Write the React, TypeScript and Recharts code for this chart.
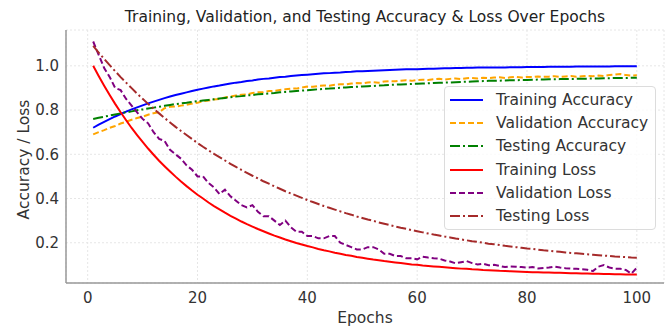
import { LineChart, Line, XAxis, YAxis, CartesianGrid, Legend, Label } from "recharts";

// epochs and metric values
const EPOCHS = [
  1, 2, 3, 4, 5, 6, 7, 8, 9, 10, 11, 12, 13, 14, 15, 16, 17, 18, 19, 20,
  21, 22, 23, 24, 25, 26, 27, 28, 29, 30, 31, 32, 33, 34, 35, 36, 37, 38, 39, 40,
  41, 42, 43, 44, 45, 46, 47, 48, 49, 50, 51, 52, 53, 54, 55, 56, 57, 58, 59, 60,
  61, 62, 63, 64, 65, 66, 67, 68, 69, 70, 71, 72, 73, 74, 75, 76, 77, 78, 79, 80,
  81, 82, 83, 84, 85, 86, 87, 88, 89, 90, 91, 92, 93, 94, 95, 96, 97, 98, 99, 100,
];

const TRAIN_ACC = [
  0.72, 0.734, 0.747, 0.759, 0.771, 0.782, 0.793, 0.803, 0.812, 0.821,
  0.83, 0.838, 0.846, 0.854, 0.861, 0.868, 0.874, 0.88, 0.886, 0.892,
  0.897, 0.902, 0.907, 0.911, 0.916, 0.92, 0.924, 0.927, 0.931, 0.934,
  0.938, 0.941, 0.943, 0.946, 0.949, 0.951, 0.954, 0.956, 0.958, 0.96,
  0.962, 0.964, 0.966, 0.967, 0.969, 0.97, 0.972, 0.973, 0.975, 0.976,
  0.977, 0.978, 0.979, 0.98, 0.981, 0.982, 0.983, 0.984, 0.985, 0.985,
  0.986, 0.987, 0.987, 0.988, 0.989, 0.989, 0.99, 0.99, 0.991, 0.991,
  0.992, 0.992, 0.992, 0.993, 0.993, 0.993, 0.994, 0.994, 0.994, 0.995,
  0.995, 0.995, 0.995, 0.996, 0.996, 0.996, 0.996, 0.996, 0.997, 0.997,
  0.997, 0.997, 0.997, 0.997, 0.997, 0.998, 0.998, 0.998, 0.998, 0.998,
];

const VAL_ACC = [
  0.69, 0.7, 0.709, 0.72, 0.728, 0.739, 0.747, 0.756, 0.764, 0.77,
  0.779, 0.786, 0.79, 0.808, 0.815, 0.816, 0.82, 0.824, 0.829, 0.833,
  0.84, 0.843, 0.848, 0.85, 0.857, 0.861, 0.866, 0.869, 0.871, 0.877,
  0.88, 0.881, 0.886, 0.887, 0.891, 0.894, 0.897, 0.897, 0.902, 0.906,
  0.905, 0.909, 0.911, 0.91, 0.914, 0.917, 0.916, 0.92, 0.922, 0.921,
  0.925, 0.926, 0.924, 0.929, 0.931, 0.93, 0.933, 0.935, 0.932, 0.936,
  0.937, 0.936, 0.939, 0.941, 0.938, 0.941, 0.943, 0.94, 0.944, 0.945,
  0.943, 0.946, 0.944, 0.947, 0.948, 0.945, 0.948, 0.95, 0.947, 0.95,
  0.949, 0.952, 0.95, 0.951, 0.953, 0.95, 0.952, 0.954, 0.951, 0.953,
  0.955, 0.953, 0.956, 0.954, 0.958, 0.96, 0.963, 0.958, 0.956, 0.957,
];

const TEST_ACC = [
  0.76, 0.765, 0.77, 0.775, 0.78, 0.785, 0.79, 0.794, 0.799, 0.803,
  0.807, 0.811, 0.815, 0.819, 0.823, 0.827, 0.83, 0.833, 0.837, 0.84,
  0.843, 0.846, 0.849, 0.852, 0.855, 0.858, 0.861, 0.863, 0.866, 0.868,
  0.871, 0.873, 0.875, 0.877, 0.88, 0.882, 0.884, 0.886, 0.888, 0.89,
  0.892, 0.894, 0.896, 0.897, 0.899, 0.901, 0.902, 0.904, 0.905, 0.907,
  0.908, 0.909, 0.911, 0.912, 0.914, 0.915, 0.916, 0.917, 0.918, 0.919,
  0.92, 0.921, 0.922, 0.923, 0.924, 0.925, 0.926, 0.927, 0.928, 0.929,
  0.93, 0.931, 0.932, 0.932, 0.933, 0.934, 0.935, 0.935, 0.936, 0.936,
  0.937, 0.938, 0.938, 0.939, 0.939, 0.94, 0.94, 0.941, 0.941, 0.942,
  0.942, 0.943, 0.943, 0.944, 0.944, 0.945, 0.945, 0.945, 0.946, 0.946,
];

const TRAIN_LOSS = [
  1.0, 0.954, 0.91, 0.868, 0.828, 0.79, 0.754, 0.719, 0.687, 0.656,
  0.626, 0.598, 0.571, 0.546, 0.522, 0.499, 0.477, 0.456, 0.436, 0.417,
  0.4, 0.382, 0.366, 0.351, 0.336, 0.322, 0.309, 0.296, 0.284, 0.273,
  0.262, 0.252, 0.242, 0.232, 0.224, 0.215, 0.207, 0.199, 0.192, 0.185,
  0.179, 0.172, 0.166, 0.161, 0.155, 0.15, 0.145, 0.141, 0.136, 0.132,
  0.128, 0.124, 0.121, 0.117, 0.114, 0.111, 0.108, 0.105, 0.102, 0.1,
  0.097, 0.095, 0.093, 0.091, 0.089, 0.087, 0.085, 0.083, 0.082, 0.08,
  0.079, 0.077, 0.076, 0.075, 0.073, 0.072, 0.071, 0.07, 0.069, 0.068,
  0.067, 0.067, 0.066, 0.065, 0.064, 0.064, 0.063, 0.062, 0.062, 0.061,
  0.061, 0.06, 0.06, 0.059, 0.059, 0.058, 0.058, 0.057, 0.057, 0.057,
];

const VAL_LOSS = [
  1.11, 1.05, 0.99, 0.95, 0.9, 0.89, 0.85, 0.82, 0.79, 0.76,
  0.74, 0.7, 0.67, 0.66, 0.62, 0.6, 0.58, 0.55, 0.53, 0.5,
  0.5, 0.47, 0.45, 0.42, 0.44, 0.41, 0.39, 0.37, 0.36, 0.37,
  0.34, 0.32, 0.32, 0.3, 0.28, 0.3, 0.27, 0.25, 0.25, 0.23,
  0.23, 0.22, 0.22, 0.23, 0.23, 0.2, 0.19, 0.18, 0.17, 0.17,
  0.18, 0.18, 0.17, 0.15, 0.15, 0.14, 0.14, 0.13, 0.13, 0.125,
  0.137, 0.133, 0.13, 0.128, 0.12, 0.115, 0.107, 0.112, 0.117, 0.108,
  0.102, 0.105, 0.098, 0.1, 0.095, 0.09, 0.093, 0.092, 0.09, 0.088,
  0.09, 0.084, 0.086, 0.088, 0.092, 0.088, 0.085, 0.083, 0.082, 0.08,
  0.078, 0.072, 0.092, 0.099, 0.088, 0.083, 0.082, 0.077, 0.06, 0.087,
];

const TEST_LOSS = [
  1.09, 1.06, 1.031, 1.003, 0.976, 0.949, 0.924, 0.899, 0.874, 0.851,
  0.828, 0.806, 0.785, 0.764, 0.744, 0.724, 0.705, 0.687, 0.669, 0.651,
  0.634, 0.618, 0.602, 0.587, 0.572, 0.557, 0.543, 0.529, 0.516, 0.503,
  0.491, 0.478, 0.467, 0.455, 0.444, 0.433, 0.423, 0.413, 0.403, 0.393,
  0.384, 0.375, 0.366, 0.358, 0.35, 0.342, 0.334, 0.327, 0.319, 0.312,
  0.305, 0.299, 0.292, 0.286, 0.28, 0.274, 0.268, 0.263, 0.257, 0.252,
  0.247, 0.242, 0.237, 0.233, 0.228, 0.224, 0.219, 0.215, 0.211, 0.207,
  0.204, 0.2, 0.196, 0.193, 0.19, 0.186, 0.183, 0.18, 0.177, 0.174,
  0.172, 0.169, 0.166, 0.164, 0.161, 0.159, 0.156, 0.154, 0.152, 0.15,
  0.148, 0.146, 0.144, 0.142, 0.14, 0.138, 0.137, 0.135, 0.133, 0.132,
];

const X_TICKS = [0, 20, 40, 60, 80, 100];
const Y_TICKS = [0.2, 0.4, 0.6, 0.8, 1.0];

const data = EPOCHS.map((epoch, i) => ({
  epoch,
  trainAcc: TRAIN_ACC[i],
  valAcc: VAL_ACC[i],
  testAcc: TEST_ACC[i],
  trainLoss: TRAIN_LOSS[i],
  valLoss: VAL_LOSS[i],
  testLoss: TEST_LOSS[i],
}));

const DASHED = "6 3";
const DASHDOT = "10 3 2 3";

const SERIES = [
  { key: "trainAcc", name: "Training Accuracy", color: "#0000ff", dash: undefined },
  { key: "valAcc", name: "Validation Accuracy", color: "#ffa500", dash: DASHED },
  { key: "testAcc", name: "Testing Accuracy", color: "#008000", dash: DASHDOT },
  { key: "trainLoss", name: "Training Loss", color: "#ff0000", dash: undefined },
  { key: "valLoss", name: "Validation Loss", color: "#800080", dash: DASHED },
  { key: "testLoss", name: "Testing Loss", color: "#a52a2a", dash: DASHDOT },
];

const FONT = '"DejaVu Sans", sans-serif';
const TEXT = "#333";
const FRAME = { stroke: "#999", strokeWidth: 1.5 };
const X_DOMAIN: [number, number] = [-3.95, 104.95];
const Y_DOMAIN: [number, number] = [0.018, 1.162];

function LegendBox() {
  return (
    <div
      style={{
        boxSizing: "border-box",
        width: 212,
        height: 144,
        background: "rgba(255,255,255,0.8)",
        border: "1px solid #dcdcdc",
        borderRadius: 4,
        paddingTop: 1,
      }}
    >
      {SERIES.map((s) => (
        <div key={s.key} style={{ display: "flex", alignItems: "center", height: 23.3 }}>
          <svg width={33} height={4} style={{ marginLeft: 5, marginRight: 13 }}>
            <line x1={0} y1={2} x2={33} y2={2} stroke={s.color} strokeWidth={2} strokeDasharray={s.dash} />
          </svg>
          <span style={{ fontSize: 15.5, color: TEXT, whiteSpace: "nowrap" }}>{s.name}</span>
        </div>
      ))}
    </div>
  );
}

export default function App() {
  return (
    <div style={{ position: "absolute", left: 0, top: 0, width: 666, height: 327, background: "#fff", fontFamily: FONT }}>
      <div
        style={{
          position: "absolute",
          left: 66,
          width: 598,
          top: 7,
          height: 20,
          lineHeight: "20px",
          textAlign: "center",
          fontSize: 15.5,
          color: "#222",
          whiteSpace: "nowrap",
        }}
      >
        Training, Validation, and Testing Accuracy &amp; Loss Over Epochs
      </div>
      <LineChart width={666} height={327} data={data} margin={{ top: 30, right: 2, bottom: 0, left: 0 }}>
        <CartesianGrid stroke="#e6e6e6" strokeDasharray="2 2" />
        <XAxis
          dataKey="epoch"
          type="number"
          domain={X_DOMAIN}
          ticks={X_TICKS}
          height={44}
          tickLine={false}
          tickSize={0}
          tickMargin={9}
          axisLine={FRAME}
          tick={{ fill: TEXT, fontSize: 15 }}
          allowDataOverflow
        >
          <Label value="Epochs" position="insideBottom" offset={4} fill={TEXT} fontSize={15.5} />
        </XAxis>
        <XAxis
          xAxisId="top"
          orientation="top"
          dataKey="epoch"
          type="number"
          domain={X_DOMAIN}
          height={0}
          tick={false}
          tickLine={false}
          axisLine={FRAME}
        />
        <YAxis
          type="number"
          domain={Y_DOMAIN}
          ticks={Y_TICKS}
          width={66}
          tickLine={false}
          tickSize={0}
          tickMargin={7}
          axisLine={FRAME}
          tick={{ fill: TEXT, fontSize: 15 }}
          tickFormatter={(v: number) => v.toFixed(1)}
          allowDataOverflow
        >
          <Label
            value="Accuracy / Loss"
            angle={-90}
            position="insideLeft"
            offset={23}
            textAnchor="middle"
            dy={3}
            fill={TEXT}
            fontSize={15.5}
          />
        </YAxis>
        <YAxis
          yAxisId="right"
          orientation="right"
          type="number"
          domain={Y_DOMAIN}
          width={0}
          tick={false}
          tickLine={false}
          axisLine={FRAME}
        />
        <Legend
          layout="vertical"
          align="center"
          verticalAlign="middle"
          content={() => <LegendBox />}
          wrapperStyle={{ left: 444, top: 86, width: 212, height: 144 }}
        />
        {SERIES.map((s) => (
          <Line
            key={s.key}
            dataKey={s.key}
            name={s.name}
            type="linear"
            stroke={s.color}
            strokeWidth={2}
            strokeDasharray={s.dash}
            dot={false}
            activeDot={false}
            isAnimationActive={false}
          />
        ))}
      </LineChart>
    </div>
  );
}
